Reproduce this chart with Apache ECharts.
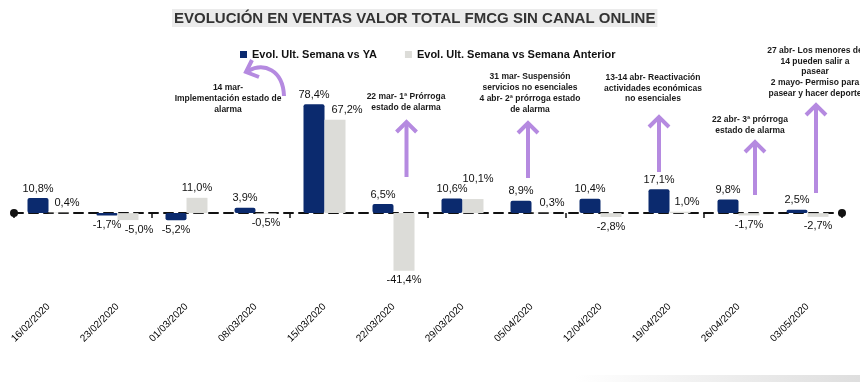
<!DOCTYPE html>
<html>
<head>
<meta charset="utf-8">
<script src="https://cdn.jsdelivr.net/npm/echarts@6/dist/echarts.min.js"></script>
<style>
html,body{margin:0;padding:0;background:#fff;}
#chart{width:860px;height:382px;}
</style>
</head>
<body>
<div id="chart"></div>
<script>
const titleText = 'EVOLUCIÓN EN VENTAS VALOR TOTAL FMCG SIN CANAL ONLINE';
const categories = ['16/02/2020','23/02/2020','01/03/2020','08/03/2020','15/03/2020','22/03/2020','29/03/2020','05/04/2020','12/04/2020','19/04/2020','26/04/2020','03/05/2020'];
const seriesNames = ['Evol. Ult. Semana vs YA','Evol. Ult. Semana vs Semana Anterior'];
const vsYA = [10.8, -1.7, -5.2, 3.9, 78.4, 6.5, 10.6, 8.9, 10.4, 17.1, 9.8, 2.5];
const vsAnterior = [0.4, -5.0, 11.0, -0.5, 67.2, -41.4, 10.1, 0.3, -2.8, 1.0, -1.7, -2.7];
const annotations = [
  '14 mar-\nImplementación estado de\nalarma',
  '22 mar- 1ª Prórroga\nestado de alarma',
  '31 mar- Suspensión\nservicios no esenciales\n4 abr- 2ª prórroga estado\nde alarma',
  '13-14 abr- Reactivación\nactividades económicas\nno esenciales',
  '22 abr- 3ª prórroga\nestado de alarma',
  '27 abr- Los menores de\n14 pueden salir a\npasear\n2 mayo- Permiso para\npasear y hacer deporte'
];

// layout / style settings (not data)
const BLUE = '#0b2a6e', GRAY = '#dcdcd8', PURPLE = '#b58ae0', TXT = '#111111';
const FONT = '"Liberation Sans", Arial, sans-serif';
const grayLabelOffset = {0:[8,0],1:[11,0],4:[12,0],6:[5,-11],7:[10,0],9:[7,0]};
const annoPos = [[228,82.5],[406,91.5],[530,71.5],[653,72],[750,114.5],[815,45]];
const arrows = [[406.5,122,177],[528,123,178],[659,117,172],[755,142,195],[816,105,193]];

function fmt(v){ return v.toFixed(1).replace('.',',') + '%'; }

function barData(values, offsets){
  return values.map((v,i) => {
    const o = (offsets && offsets[i]) || [0,0];
    return {
      value: v,
      label: { position: v >= 0 ? 'top' : 'bottom', offset: o }
    };
  });
}

const graphic = [];
graphic.push({
  type:'rect', shape:{x:575,y:375,width:285,height:7}, silent:true, z:0,
  style:{ fill: new echarts.graphic.LinearGradient(0,0,1,0,[{offset:0,color:'#ffffff'},{offset:1,color:'#dedede'}]) }
});
annotations.forEach((t,i) => {
  graphic.push({
    type:'text', z:10,
    style:{ text:t, x:annoPos[i][0], y:annoPos[i][1], textAlign:'center', textVerticalAlign:'top',
      font:'bold 8.5px ' + FONT, fill:'#1a1a1a', lineHeight:10.8 }
  });
});
arrows.forEach(a => {
  const [x,yt,yb] = a;
  graphic.push({ type:'line', z:10, shape:{x1:x,y1:yt+1,x2:x,y2:yb}, style:{stroke:PURPLE,lineWidth:4}});
  graphic.push({ type:'polyline', z:10, shape:{points:[[x-10,yt+10],[x,yt],[x+10,yt+10]]}, style:{stroke:PURPLE,lineWidth:4,fill:null,lineJoin:'miter'}});
});
graphic.push({ type:'bezierCurve', z:10, shape:{x1:284,y1:96,cpx1:283,cpy1:70,cpx2:264,cpy2:62,x2:248,y2:71},
  style:{stroke:PURPLE,lineWidth:4,fill:null}});
graphic.push({ type:'polyline', z:10, shape:{points:[[252,60],[246,72],[259,77]]},
  style:{stroke:PURPLE,lineWidth:4,fill:null}});

const chart = echarts.init(document.getElementById('chart'), null, {renderer:'canvas'});
chart.setOption({
  animation:false,
  backgroundColor:'#ffffff',
  title:{
    text: titleText, left:172, top:9,
    padding:[2,2,1,2], backgroundColor:'#ebebeb',
    textStyle:{ fontFamily:FONT, fontSize:15, fontWeight:'bold', color:'#333333' }
  },
  legend:{
    left:240, top:49, padding:0, itemWidth:7, itemHeight:7, itemGap:28, icon:'rect',
    textStyle:{ fontFamily:FONT, fontSize:11, fontWeight:'bold', color:TXT },
    data: seriesNames
  },
  grid:{ left:14, right:18, top:88, bottom:82, containLabel:false },
  xAxis:[
    {
      type:'category', data:categories,
      axisLine:{ show:true, onZero:true, symbol:['circle','circle'], symbolSize:[8,8],
        lineStyle:{ color:'#111', width:2, type:[9,6] } },
      axisTick:{ show:true, length:5, lineStyle:{color:'#111', width:1.5} },
      axisLabel:{ show:false }, splitLine:{show:false}
    },
    {
      type:'category', data:categories, position:'bottom',
      axisLine:{ show:false, onZero:false }, axisTick:{show:false},
      axisLabel:{ rotate:45, margin:5, fontSize:10, color:'#000', interval:0, fontFamily:FONT }
    }
  ],
  yAxis:{ type:'value', min:-62.5, max:90, show:false, splitLine:{show:false} },
  series:[
    {
      name:seriesNames[0], type:'bar', xAxisIndex:0, barWidth:21, barGap:'0%',
      itemStyle:{ color:BLUE, borderRadius:2 },
      label:{ show:true, distance:4, fontSize:11, color:TXT, fontFamily:FONT, formatter: p => fmt(p.value) },
      data: barData(vsYA)
    },
    {
      name:seriesNames[1], type:'bar', xAxisIndex:0, barWidth:21, barGap:'0%',
      itemStyle:{ color:GRAY },
      label:{ show:true, distance:4, fontSize:11, color:TXT, fontFamily:FONT, formatter: p => fmt(p.value) },
      data: barData(vsAnterior, grayLabelOffset)
    }
  ],
  graphic: graphic
});
</script>
</body>
</html>
